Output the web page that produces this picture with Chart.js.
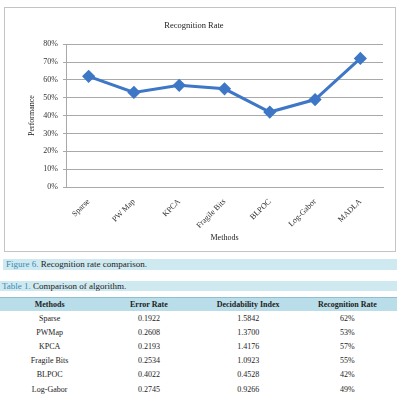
<!DOCTYPE html>
<html><head><meta charset="utf-8">
<script src="https://cdn.jsdelivr.net/npm/chart.js@4"></script>
<style>
body{margin:0;background:#fff;width:419px;height:401px;position:relative;overflow:hidden;font-family:"Liberation Serif","Times New Roman",serif;}
#box{position:absolute;left:4px;top:7px;width:390px;height:243px;border:1px solid #c4c4c4;}
#box canvas{display:block;}
.band{position:absolute;background:#cfe9f1;font-size:9px;line-height:11px;color:#222;white-space:nowrap;}
.band b{color:#3b8ab3;font-weight:normal;}
table{position:absolute;left:0;top:297px;width:397px;border-collapse:collapse;font-size:8px;color:#222;table-layout:fixed;}
th{background:#b9dde9;border-top:1px solid #8fbfd2;height:13px;padding:0;font-weight:bold;}
td{height:14.2px;padding:0;text-align:center;font-weight:normal;}
</style></head><body>
<div id="box"><canvas id="c" width="390" height="243"></canvas></div>
<div class="band" style="left:3px;top:259px;width:394px;height:11px;padding-left:3px;box-sizing:border-box;"><b>Figure 6.</b> Recognition rate comparison.</div>
<div class="band" style="left:0;top:281px;width:397px;height:10px;line-height:10px;padding-left:2px;box-sizing:border-box;"><b>Table 1.</b> Comparison of algorithm.</div>
<table id="t"></table>
<script>
const methods = ["Sparse","PW Map","KPCA","Fragile Bits","BLPOC","Log-Gabor","MADLA"];
const recognitionRate = [62,53,57,55,42,49,72];
const yTicks = [0,10,20,30,40,50,60,70,80];

const tableHeaders = ["Methods","Error Rate","Decidability Index","Recognition Rate"];
const tableMethods = ["Sparse","PWMap","KPCA","Fragile Bits","BLPOC","Log-Gabor"];
const tableErrorRate = ["0.1922","0.2608","0.2193","0.2534","0.4022","0.2745"];
const tableDecidability = ["1.5842","1.3700","1.4176","1.0923","0.4528","0.9266"];
const tableRecognition = ["62%","53%","57%","55%","42%","49%"];

const t = document.getElementById('t');
let html = '<tr>' + tableHeaders.map(h=>'<th>'+h+'</th>').join('') + '</tr>';
for (let i=0;i<tableMethods.length;i++){
  html += '<tr><td>'+tableMethods[i]+'</td><td>'+tableErrorRate[i]+'</td><td>'+tableDecidability[i]+'</td><td>'+tableRecognition[i]+'</td></tr>';
}
t.innerHTML = html;

const font = {family:"'Liberation Serif','Times New Roman',serif", size:8};
new Chart(document.getElementById('c'), {
  type:'line',
  data:{labels:methods, datasets:[{data:recognitionRate, borderColor:'#3d77c6', backgroundColor:'#3d77c6', borderWidth:3, pointStyle:'rectRot', pointRadius:4.5, pointHoverRadius:4.5, tension:0}]},
  options:{
    responsive:false, animation:false,
    layout:{padding:{left:0,right:12,top:0,bottom:0}},
    plugins:{
      legend:{display:false}, tooltip:{enabled:false},
      title:{display:true, text:'Recognition Rate', color:'#222', font:{...font, size:8.5, weight:'normal'}, padding:{top:13,bottom:13}}
    },
    scales:{
      y:{min:0,max:80,
        afterBuildTicks:(s)=>{s.ticks = yTicks.map(v=>({value:v}));},
        afterFit:(s)=>{s.width=61;},
        ticks:{callback:(v)=>v+'%', color:'#333', font, padding:5},
        grid:{color:'#a9a9a9', lineWidth:1, drawTicks:true, tickLength:3},
        border:{display:true,color:'#a9a9a9'},
        title:{display:true,text:'Performance',color:'#222',font,padding:{top:22,bottom:0}}
      },
      x:{
        offset:true,
        afterFit:(s)=>{s.height=64;},
        ticks:{color:'#333', font, minRotation:45, maxRotation:45, padding:2},
        grid:{display:false, offset:true},
        border:{display:true,color:'#a9a9a9'},
        title:{display:true,text:'Methods',color:'#222',font,padding:{top:4,bottom:8}}
      }
    }
  }
});
</script>
</body></html>
